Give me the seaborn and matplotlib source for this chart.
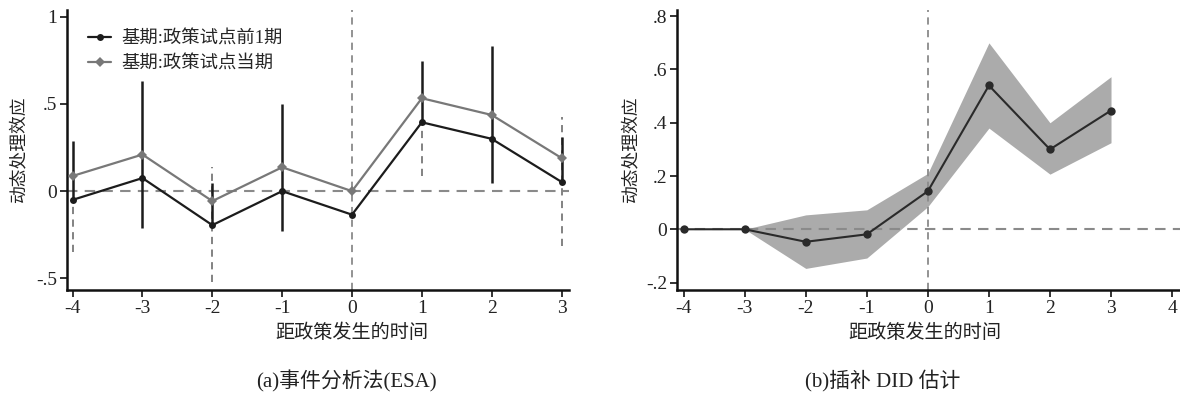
import numpy as np
import pandas as pd
import matplotlib
matplotlib.use("Agg")
import matplotlib.pyplot as plt
import seaborn as sns

# ---------------- data ----------------
periods = [-4, -3, -2, -1, 0, 1, 2, 3]
series_names = ["基期:政策试点前1期", "基期:政策试点当期"]

base_pre1 = [-0.05, 0.075, -0.195, 0.0, -0.135, 0.395, 0.30, 0.053]
base_pre1_lo = [-0.05, -0.21, -0.195, -0.23, np.nan, 0.395, 0.044, 0.053]
base_pre1_hi = [0.29, 0.63, 0.046, 0.50, np.nan, 0.747, 0.83, 0.31]

base_cur = [0.087, 0.21, -0.057, 0.137, 0.0, 0.533, 0.437, 0.19]
base_cur_lo = [-0.35, np.nan, -0.52, np.nan, np.nan, 0.086, np.nan, -0.316]
base_cur_hi = [-0.05, np.nan, 0.137, np.nan, np.nan, 0.395, np.nan, 0.425]

did_est = [0.0, 0.0, -0.047, -0.019, 0.143, 0.54, 0.30, 0.446]
did_lo = [0.0, 0.0, -0.147, -0.108, 0.085, 0.38, 0.207, 0.325]
did_hi = [0.0, 0.0, 0.054, 0.073, 0.21, 0.70, 0.40, 0.573]

left_yticks = [-0.5, 0, 0.5, 1]
left_yticklabels = ["-.5", "0", ".5", "1"]
right_yticks = [-0.2, 0, 0.2, 0.4, 0.6, 0.8]
right_yticklabels = ["-.2", "0", ".2", ".4", ".6", ".8"]
left_xticks = [-4, -3, -2, -1, 0, 1, 2, 3]
right_xticks = [-4, -3, -2, -1, 0, 1, 2, 3, 4]

ylabel = "动态处理效应"
xlabel = "距政策发生的时间"
caption_a = "(a)事件分析法(ESA)"
caption_b = "(b)插补 DID 估计"

# ---------------- style ----------------
sns.set_theme(style="ticks")
FAM = ["Liberation Serif", "Noto Sans CJK SC", "DejaVu Sans"]
plt.rcParams["font.family"] = FAM
plt.rcParams["axes.unicode_minus"] = False

BLACK = "#1c1c1c"
GREY = "#787878"
REF = "#8a8a8a"
BAND = "#ababab"
TXT = "#222222"

fig = plt.figure(figsize=(11.8, 3.94), dpi=100)
ax1 = fig.add_axes([0.0568, 0.264, 0.425, 0.711])
ax2 = fig.add_axes([0.5737, 0.264, 0.4263, 0.711])

# ---------------- left panel ----------------
df = pd.DataFrame({
    "period": periods * 2,
    "value": base_pre1 + base_cur,
    "series": [series_names[0]] * len(periods) + [series_names[1]] * len(periods),
})

ax1.axhline(0, color=REF, lw=1.5, ls=(0, (5, 3.5)), zorder=1)
ax1.axvline(0, color=REF, lw=1.3, ls=(0, (4, 3)), zorder=1)

ax1.vlines(periods, base_cur_lo, base_cur_hi, colors=GREY, lw=1.3,
           linestyles=(0, (4, 3)), zorder=2)
ax1.vlines(periods, base_pre1_lo, base_pre1_hi, colors=BLACK, lw=1.8, zorder=3)

sns.lineplot(data=df, x="period", y="value", hue="series", style="series",
             palette={series_names[0]: BLACK, series_names[1]: GREY},
             markers={series_names[0]: "o", series_names[1]: "D"},
             dashes=False, markersize=5, markeredgewidth=0, linewidth=1.6,
             ax=ax1, zorder=4)

ax1.set_xlim(-4.08, 3.1)
ax1.set_ylim(-0.567, 1.04)
ax1.set_xticks(left_xticks)
ax1.set_xticklabels([str(v) for v in left_xticks])
ax1.set_yticks(left_yticks)
ax1.set_yticklabels(left_yticklabels)

leg = ax1.legend(loc="upper left", bbox_to_anchor=(0.02, 0.965), frameon=False,
                 prop={"family": FAM, "size": 13.2}, handlelength=1.25,
                 handletextpad=0.55, labelspacing=0.4, borderaxespad=0.2)

# ---------------- right panel ----------------
ax2.fill_between(periods, did_lo, did_hi, color=BAND, lw=0, zorder=1)
ax2.axhline(0, color=REF, lw=1.5, ls=(0, (5, 3.5)), zorder=2)
ax2.axvline(0, color=REF, lw=1.3, ls=(0, (4, 3)), zorder=2)
sns.lineplot(x=periods, y=did_est, color="#2a2a2a", marker="o", markersize=6,
             markeredgewidth=0, linewidth=1.5, ax=ax2, zorder=4)

ax2.set_xlim(-4.11, 4.13)
ax2.set_ylim(-0.228, 0.824)
ax2.set_xticks(right_xticks)
ax2.set_xticklabels([str(v) for v in right_xticks])
ax2.set_yticks(right_yticks)
ax2.set_yticklabels(right_yticklabels)

# ---------------- common axis styling ----------------
for ax in (ax1, ax2):
    sns.despine(ax=ax)
    for s in ("left", "bottom"):
        ax.spines[s].set_linewidth(1.8)
        ax.spines[s].set_color("#111111")
    ax.tick_params(axis="both", direction="out", length=5, width=1.2,
                   color="#111111", labelsize=14, pad=2, labelcolor=TXT)
    ax.set_xlabel(xlabel, fontsize=13.8, color=TXT)
    ax.set_ylabel(ylabel, fontsize=12.8, color=TXT)
    ax.grid(False)
    ax.set_facecolor("white")

# label positions (x label centred under the policy date)
ax1.xaxis.set_label_coords((352 - 67) / 502, -(333 - 290) / 280, transform=ax1.transAxes)
ax2.xaxis.set_label_coords((925 - 677) / 503, -(333 - 290) / 280, transform=ax2.transAxes)
ax1.yaxis.set_label_coords(-(67 - 19) / 502, 0.5, transform=ax1.transAxes)
ax2.yaxis.set_label_coords(-(677 - 631) / 503, 0.5, transform=ax2.transAxes)
for ax in (ax1, ax2):
    ax.xaxis.label.set_va("center")
    ax.yaxis.label.set_va("center")

fig.text(346 / 1180, 1 - 381 / 394, caption_a, ha="center", va="center",
         fontsize=15, color=TXT)
fig.text(883 / 1180, 1 - 381 / 394, caption_b, ha="center", va="center",
         fontsize=15, color=TXT)

fig.savefig("out.png", dpi=100, facecolor="white")
